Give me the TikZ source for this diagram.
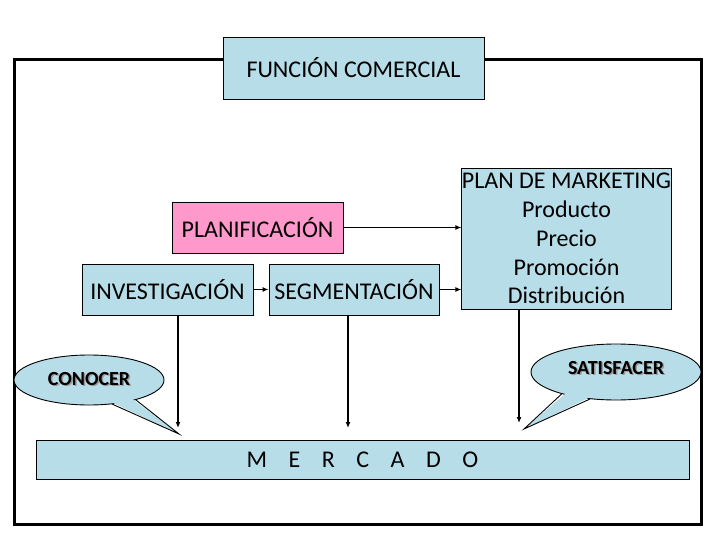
\documentclass[tikz,border=0pt]{standalone}
\usepackage{fontspec}
\setmainfont{Carlito}
\usetikzlibrary{shapes.geometric,arrows.meta,calc}
\definecolor{boxblue}{HTML}{B7DEE8}
\definecolor{boxpink}{HTML}{FF99CC}
\tikzset{
  bbox/.style={draw=black, line width=0.9pt, fill=boxblue, inner sep=0pt, align=center,
    font=\fontsize{24}{28.8}\selectfont},
  pbox/.style={bbox, fill=boxpink},
  arr/.style={line width=1.3pt, -{Latex[length=6pt,width=5pt]}},
  bubble/.style={ellipse, draw=black, line width=0.9pt, fill=boxblue, inner sep=0pt},
  btext/.style={font=\fontsize{20}{24}\selectfont\bfseries, inner sep=0pt},
  bshadow/.style={btext, text=black!40},
  frame/.style={draw=black, line width=3pt}
}
\begin{document}
\begin{tikzpicture}[x=1pt,y=-1pt]
\useasboundingbox (0,0) rectangle (720,540);
\fill[white] (0,0) rectangle (720,540);
% outer frame
\draw[frame] (14,60) rectangle (701,524);
% boxes
\node[bbox, minimum width=261pt, minimum height=62pt] (func) at (353.5,68) {FUNCIÓN COMERCIAL};
\node[pbox, minimum width=171pt, minimum height=51pt] (plan) at (257.5,227.5) {PLANIFICACIÓN};
\node[bbox, minimum width=171pt, minimum height=51pt] (inv) at (167.5,289.5) {INVESTIGACIÓN};
\node[bbox, minimum width=170pt, minimum height=51pt] (seg) at (354,289.5) {SEGMENTACIÓN};
\node[bbox, minimum width=209pt, minimum height=141pt] (mkt) at (566.5,238.5)
  {PLAN DE MARKETING\\Producto\\Precio\\Promoción\\Distribución};
\node[bbox, minimum width=653pt, minimum height=39pt] (merc) at (362.5,459.5)
  {M\hspace{21.5pt}E\hspace{21.5pt}R\hspace{21.5pt}C\hspace{21.5pt}A\hspace{21.5pt}D\hspace{21.5pt}O};
% horizontal arrows
\draw[arr] (plan.east) -- (plan.east -| mkt.west);
\draw[arr] (seg.east) -- (seg.east -| mkt.west);
\draw[arr] (inv.east) -- (seg.west);
% vertical arrows
\coordinate (t1) at (178,428);
\coordinate (t2) at (348,428);
\coordinate (t3) at (519,423);
\draw[arr] (t1 |- inv.south) -- (t1);
\draw[arr] (t2 |- seg.south) -- (t2);
\draw[arr] (t3 |- mkt.south) -- (t3);
% callouts
\node[bubble, minimum width=150pt, minimum height=50pt] (con) at (89,380) {};
\coordinate (tip1) at (179,434);
\fill[boxblue] ($(con.-46)!0.12!(con.center)$) -- (tip1) -- ($(con.-23)!0.12!(con.center)$) -- cycle;
\draw[line width=0.9pt] (con.-46) -- (tip1) -- (con.-23);
\node[bshadow] (conS) at (90.5,380.5) {CONOCER};
\node[btext] (conT) at (89,379) {CONOCER};
\node[bubble, minimum width=170pt, minimum height=56pt] (sat) at (616,372) {};
\coordinate (tip2) at (524,429);
\fill[boxblue] ($(sat.-158)!0.12!(sat.center)$) -- (tip2) -- ($(sat.-134)!0.12!(sat.center)$) -- cycle;
\draw[line width=0.9pt] (sat.-158) -- (tip2) -- (sat.-134);
\node[bshadow] (satS) at (617.5,369.5) {SATISFACER};
\node[btext] (satT) at (616,368) {SATISFACER};
\end{tikzpicture}
\end{document}
